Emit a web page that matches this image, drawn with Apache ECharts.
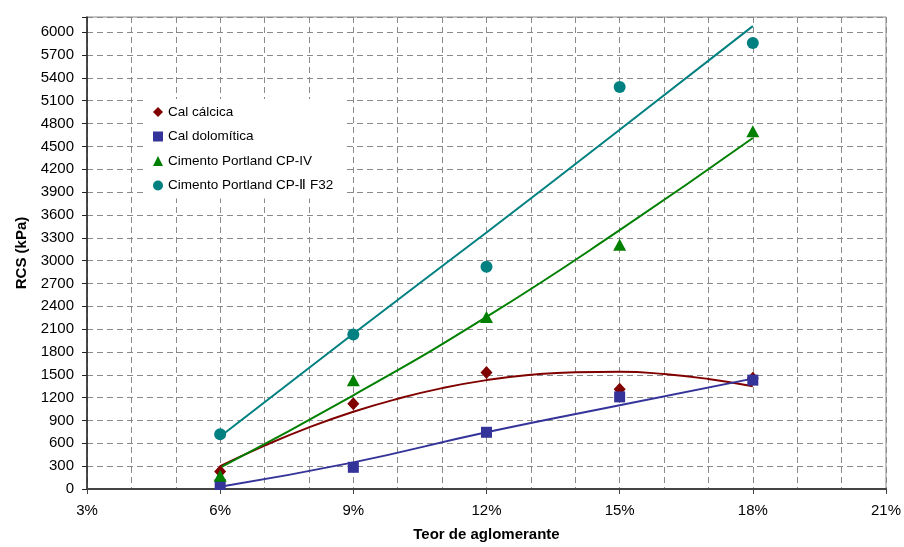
<!DOCTYPE html>
<html>
<head>
<meta charset="utf-8">
<script src="https://cdn.jsdelivr.net/npm/echarts@6/dist/echarts.min.js"></script>
<style>
html,body{margin:0;padding:0;background:#fff;}
#c{width:904px;height:547px;}
</style>
</head>
<body>
<div id="c"></div>
<script>
// ---- data ----
const teor = [6, 9, 12, 15, 18];
const calCalcica = [230, 1120, 1530, 1310, 1455];
const calDolomitica = [60, 285, 745, 1210, 1430];
const cpIV = [175, 1430, 2260, 3210, 4700];
const cpII = [720, 2030, 2920, 5280, 5860];

// trend lines
const trendCalX = [6, 7, 8, 9, 10, 11, 12, 13, 14, 15, 16, 17, 18];
const trendCal = [300, 570, 810, 1015, 1185, 1325, 1430, 1500, 1535, 1540, 1510, 1445, 1350];
const trendX = [6, 9, 12, 15, 18];
const trendDol = [30, 350, 745, 1100, 1450];
const trendIV = [280, 1230, 2260, 3400, 4610];
const trendII = [690, 2040, 3370, 4720, 6080];

const names = ['Cal cálcica', 'Cal dolomítica', 'Cimento Portland CP-IV', 'Cimento Portland CP-\u2161 F32'];
const colors = ['#800000', '#333399', '#008000', '#008080'];
const symbols = ['diamond', 'rect', 'triangle', 'circle'];
const sizes = [[12, 13], 11, [13, 12], 12];

const font = "'Liberation Sans', Arial, sans-serif";
const zip = (xs, ys) => xs.map((x, i) => [x, ys[i]]);

const pts = [calCalcica, calDolomitica, cpIV, cpII];
const trends = [[trendCalX, trendCal], [trendX, trendDol], [trendX, trendIV], [trendX, trendII]];

const series = [];
trends.forEach((t, i) => {
  series.push({
    name: 'trend' + i, type: 'line', data: zip(t[0], t[1]), smooth: true,
    showSymbol: false, silent: true, z: 2,
    lineStyle: { color: colors[i], width: 2 }
  });
});
pts.forEach((p, i) => {
  series.push({
    name: names[i], type: 'scatter', data: zip(teor, p), symbol: symbols[i],
    symbolSize: sizes[i], z: 3,
    itemStyle: { color: colors[i], opacity: 1 }
  });
});

const grid = { color: '#8a8a8a', type: [6, 4], width: 1 };

const chart = echarts.init(document.getElementById('c'), null, { renderer: 'canvas' });
chart.setOption({
  animation: false,
  backgroundColor: '#fff',
  textStyle: { fontFamily: font },
  grid: { left: 87, right: 18, top: 17, bottom: 56, show: true, borderColor: '#8a8a8a', borderWidth: 1 },
  legend: {
    data: names, orient: 'vertical', left: 145, top: 99,
    padding: [6, 12, 6, 8], backgroundColor: '#fff',
    itemWidth: 10, itemHeight: 10, itemGap: 10.5,
    textStyle: { fontSize: 13.5, color: '#000', fontFamily: font }
  },
  xAxis: {
    type: 'value', min: 3, max: 21, interval: 3,
    name: 'Teor de aglomerante', nameLocation: 'middle', nameGap: 38,
    nameTextStyle: { fontSize: 15, fontWeight: 'bold', color: '#000', fontFamily: font },
    axisLine: { onZero: false, lineStyle: { color: '#444', width: 2 } },
    axisTick: { show: true, inside: false, length: 5, lineStyle: { color: '#444' } },
    axisLabel: { fontSize: 15, color: '#000', margin: 14, formatter: v => v + '%' },
    splitLine: { show: true, lineStyle: grid },
    minorTick: { show: false, splitNumber: 3 },
    minorSplitLine: { show: true, lineStyle: grid }
  },
  yAxis: {
    type: 'value', min: 0, max: 6200, interval: 300,
    name: 'RCS (kPa)', nameLocation: 'middle', nameGap: 56, nameRotate: 90,
    nameTextStyle: { fontSize: 15, fontWeight: 'bold', color: '#000', fontFamily: font },
    axisLine: { show: true, lineStyle: { color: '#222', width: 1.5 } },
    axisTick: { show: true, length: 5, lineStyle: { color: '#222' } },
    axisLabel: { fontSize: 15, color: '#000', margin: 13, formatter: v => (v > 6000 ? '' : String(v)) },
    splitLine: { show: true, lineStyle: grid }
  },
  series: series
});
</script>
</body>
</html>
